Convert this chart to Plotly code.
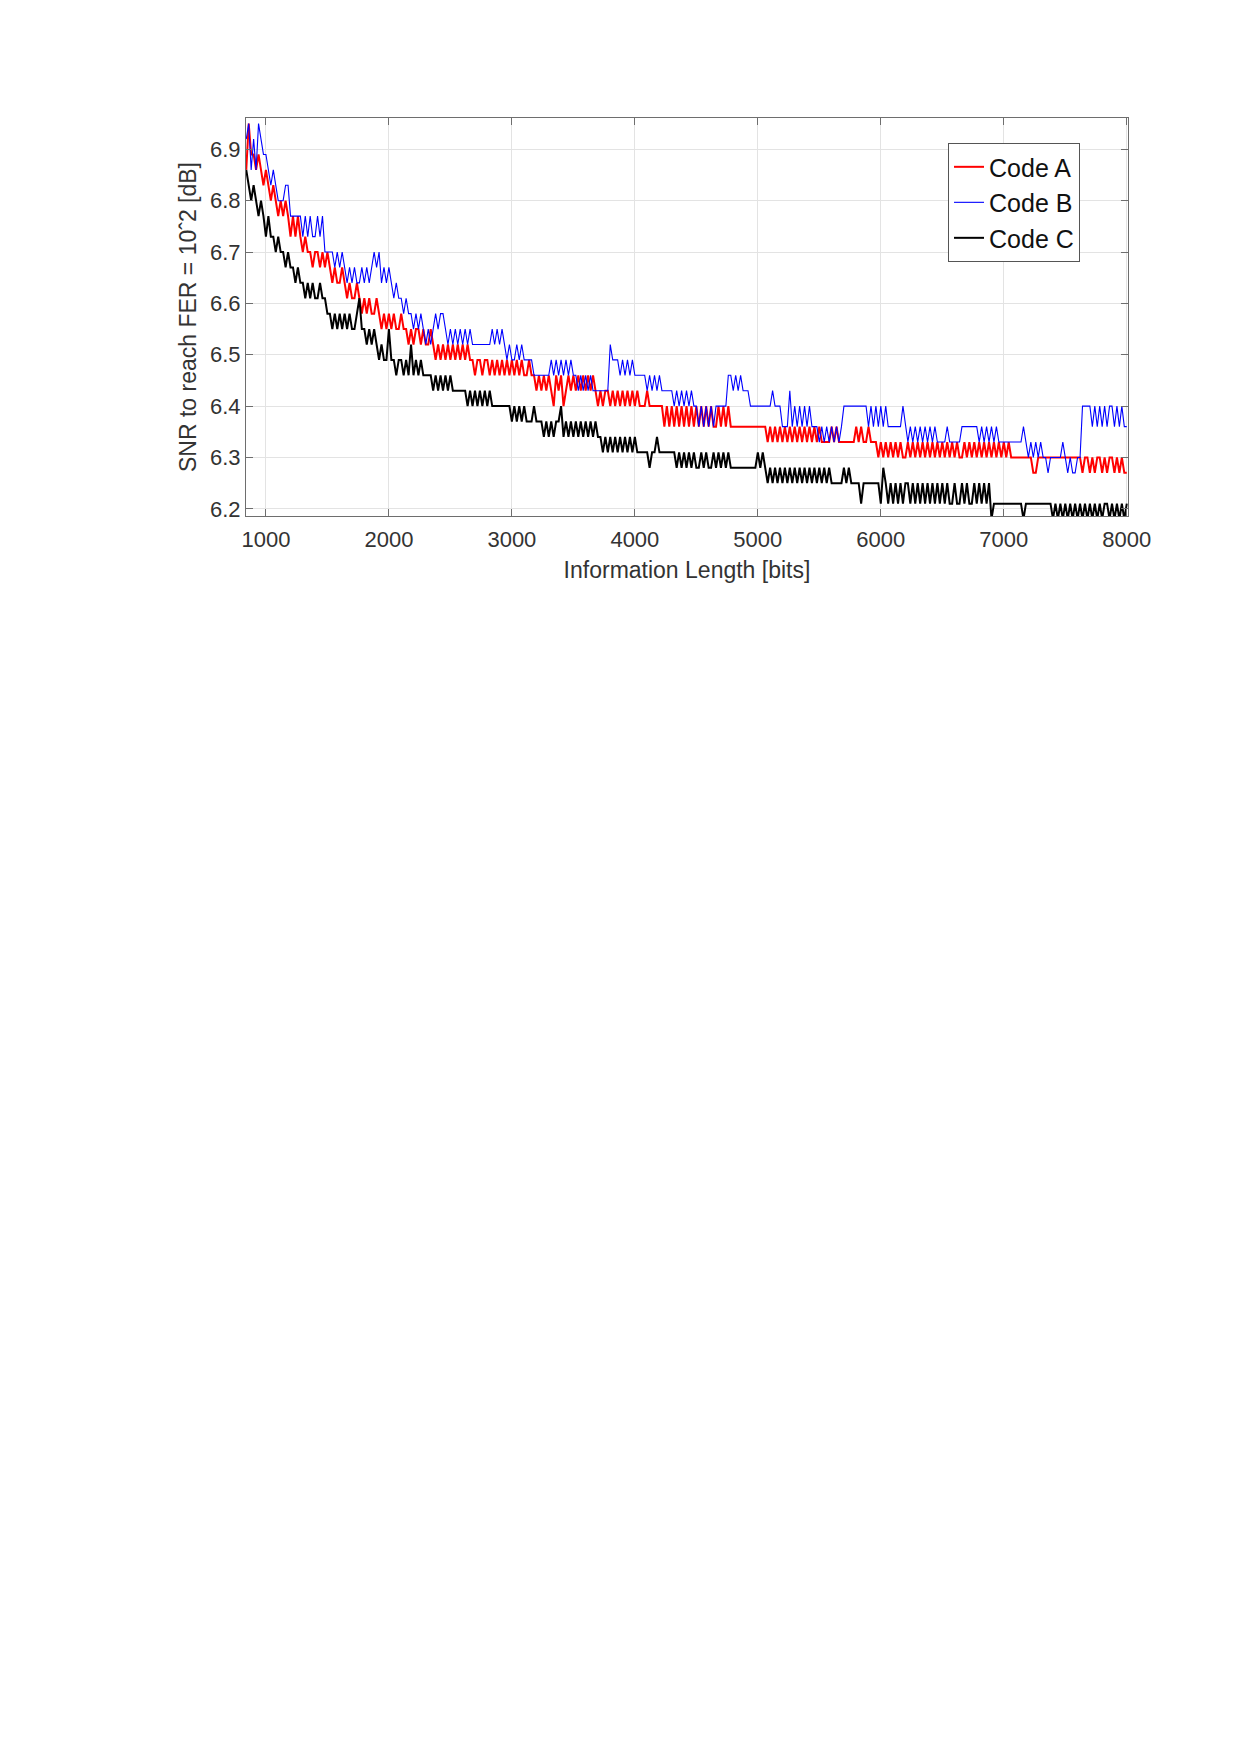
import plotly.graph_objects as go

# Information length sampling grid [bits]
info_len = list(range(840, 8001, 20))

# SNR [dB] to reach FER = 1e-2 (one row = 400 bits)
code_a = [
    6.86, 6.95, 6.89, 6.89, 6.86, 6.89, 6.86, 6.83, 6.86, 6.83, 6.80, 6.83, 6.80, 6.77, 6.80, 6.77, 6.80, 6.77, 6.73, 6.77,
    6.73, 6.77, 6.73, 6.70, 6.73, 6.70, 6.70, 6.67, 6.70, 6.70, 6.67, 6.70, 6.67, 6.70, 6.67, 6.64, 6.67, 6.64, 6.64, 6.67,
    6.64, 6.61, 6.64, 6.61, 6.61, 6.64, 6.61, 6.58, 6.61, 6.58, 6.61, 6.58, 6.58, 6.61, 6.58, 6.55, 6.58, 6.55, 6.58, 6.55,
    6.58, 6.55, 6.55, 6.58, 6.55, 6.55, 6.52, 6.55, 6.52, 6.55, 6.55, 6.52, 6.55, 6.52, 6.52, 6.55, 6.52, 6.49, 6.52, 6.49,
    6.52, 6.49, 6.52, 6.49, 6.52, 6.49, 6.52, 6.49, 6.52, 6.49, 6.52, 6.49, 6.49, 6.46, 6.49, 6.49, 6.46, 6.49, 6.49, 6.46,
    6.49, 6.46, 6.49, 6.46, 6.49, 6.46, 6.49, 6.46, 6.49, 6.46, 6.49, 6.46, 6.49, 6.46, 6.46, 6.49, 6.46, 6.46, 6.43, 6.46,
    6.43, 6.46, 6.43, 6.46, 6.43, 6.40, 6.46, 6.43, 6.46, 6.40, 6.43, 6.46, 6.43, 6.46, 6.43, 6.46, 6.43, 6.46, 6.43, 6.46,
    6.43, 6.46, 6.43, 6.40, 6.43, 6.40, 6.43, 6.43, 6.40, 6.43, 6.40, 6.43, 6.40, 6.43, 6.40, 6.43, 6.40, 6.43, 6.40, 6.43,
    6.40, 6.40, 6.40, 6.43, 6.40, 6.40, 6.40, 6.40, 6.40, 6.40, 6.36, 6.40, 6.36, 6.40, 6.36, 6.40, 6.36, 6.40, 6.36, 6.40,
    6.36, 6.40, 6.36, 6.40, 6.36, 6.40, 6.36, 6.40, 6.36, 6.40, 6.36, 6.36, 6.40, 6.36, 6.40, 6.36, 6.40, 6.36, 6.36, 6.36,
    6.36, 6.36, 6.36, 6.36, 6.36, 6.36, 6.36, 6.36, 6.36, 6.36, 6.36, 6.36, 6.33, 6.36, 6.33, 6.36, 6.33, 6.36, 6.33, 6.36,
    6.33, 6.36, 6.33, 6.36, 6.33, 6.36, 6.33, 6.36, 6.33, 6.36, 6.33, 6.36, 6.33, 6.36, 6.33, 6.33, 6.33, 6.33, 6.36, 6.33,
    6.36, 6.33, 6.33, 6.33, 6.33, 6.33, 6.33, 6.33, 6.36, 6.33, 6.36, 6.33, 6.33, 6.36, 6.33, 6.33, 6.33, 6.30, 6.33, 6.30,
    6.33, 6.30, 6.33, 6.30, 6.33, 6.30, 6.33, 6.30, 6.30, 6.33, 6.30, 6.33, 6.30, 6.33, 6.30, 6.33, 6.30, 6.33, 6.30, 6.33,
    6.30, 6.33, 6.30, 6.33, 6.30, 6.33, 6.30, 6.33, 6.30, 6.33, 6.30, 6.30, 6.33, 6.30, 6.33, 6.30, 6.33, 6.30, 6.33, 6.30,
    6.33, 6.30, 6.33, 6.30, 6.33, 6.30, 6.33, 6.30, 6.33, 6.30, 6.33, 6.30, 6.30, 6.30, 6.30, 6.30, 6.30, 6.30, 6.30, 6.30,
    6.27, 6.27, 6.30, 6.30, 6.30, 6.30, 6.30, 6.30, 6.30, 6.30, 6.30, 6.30, 6.30, 6.30, 6.30, 6.30, 6.30, 6.30, 6.30, 6.30,
    6.27, 6.30, 6.30, 6.27, 6.30, 6.27, 6.30, 6.30, 6.27, 6.30, 6.27, 6.30, 6.30, 6.27, 6.30, 6.27, 6.30, 6.27, 6.27,
]

code_b = [
    6.92, 6.95, 6.86, 6.92, 6.86, 6.95, 6.92, 6.89, 6.89, 6.86, 6.83, 6.86, 6.83, 6.80, 6.80, 6.80, 6.83, 6.83, 6.77, 6.77,
    6.77, 6.77, 6.77, 6.73, 6.77, 6.73, 6.77, 6.73, 6.73, 6.77, 6.73, 6.77, 6.70, 6.70, 6.70, 6.70, 6.67, 6.70, 6.67, 6.70,
    6.67, 6.64, 6.67, 6.64, 6.67, 6.64, 6.64, 6.67, 6.64, 6.67, 6.64, 6.67, 6.70, 6.67, 6.70, 6.64, 6.67, 6.64, 6.67, 6.64,
    6.61, 6.64, 6.61, 6.61, 6.58, 6.61, 6.58, 6.58, 6.55, 6.58, 6.55, 6.58, 6.55, 6.52, 6.55, 6.52, 6.55, 6.58, 6.55, 6.58,
    6.58, 6.55, 6.52, 6.55, 6.52, 6.55, 6.52, 6.55, 6.52, 6.55, 6.52, 6.55, 6.52, 6.52, 6.52, 6.52, 6.52, 6.52, 6.52, 6.52,
    6.55, 6.52, 6.55, 6.52, 6.55, 6.52, 6.49, 6.52, 6.49, 6.49, 6.52, 6.49, 6.52, 6.49, 6.49, 6.49, 6.49, 6.46, 6.46, 6.46,
    6.46, 6.46, 6.46, 6.46, 6.49, 6.46, 6.49, 6.46, 6.49, 6.46, 6.49, 6.46, 6.49, 6.46, 6.46, 6.43, 6.46, 6.43, 6.46, 6.43,
    6.46, 6.43, 6.43, 6.43, 6.43, 6.43, 6.43, 6.43, 6.52, 6.49, 6.49, 6.49, 6.46, 6.49, 6.46, 6.49, 6.46, 6.49, 6.46, 6.46,
    6.46, 6.46, 6.46, 6.43, 6.46, 6.43, 6.46, 6.43, 6.46, 6.43, 6.43, 6.43, 6.43, 6.43, 6.40, 6.43, 6.40, 6.43, 6.40, 6.43,
    6.40, 6.43, 6.40, 6.40, 6.36, 6.40, 6.36, 6.40, 6.36, 6.40, 6.36, 6.40, 6.40, 6.40, 6.40, 6.40, 6.46, 6.46, 6.43, 6.46,
    6.43, 6.46, 6.43, 6.43, 6.43, 6.40, 6.40, 6.40, 6.40, 6.40, 6.40, 6.40, 6.40, 6.40, 6.43, 6.40, 6.40, 6.40, 6.36, 6.36,
    6.36, 6.43, 6.36, 6.40, 6.36, 6.40, 6.36, 6.40, 6.36, 6.40, 6.36, 6.36, 6.36, 6.33, 6.36, 6.33, 6.36, 6.33, 6.36, 6.33,
    6.36, 6.33, 6.36, 6.40, 6.40, 6.40, 6.40, 6.40, 6.40, 6.40, 6.40, 6.40, 6.40, 6.36, 6.40, 6.36, 6.40, 6.36, 6.40, 6.36,
    6.40, 6.36, 6.36, 6.36, 6.36, 6.36, 6.36, 6.40, 6.36, 6.33, 6.36, 6.33, 6.36, 6.33, 6.36, 6.33, 6.36, 6.33, 6.36, 6.33,
    6.36, 6.33, 6.33, 6.33, 6.33, 6.36, 6.33, 6.33, 6.33, 6.33, 6.33, 6.36, 6.36, 6.36, 6.36, 6.36, 6.36, 6.36, 6.33, 6.36,
    6.33, 6.36, 6.33, 6.36, 6.33, 6.36, 6.33, 6.33, 6.33, 6.33, 6.33, 6.33, 6.33, 6.33, 6.33, 6.33, 6.36, 6.33, 6.30, 6.33,
    6.30, 6.33, 6.30, 6.33, 6.30, 6.30, 6.27, 6.30, 6.30, 6.30, 6.30, 6.30, 6.33, 6.30, 6.27, 6.30, 6.27, 6.27, 6.30, 6.30,
    6.40, 6.40, 6.40, 6.40, 6.36, 6.40, 6.36, 6.40, 6.36, 6.40, 6.36, 6.40, 6.40, 6.36, 6.40, 6.36, 6.40, 6.36, 6.36,
]

code_c = [
    6.86, 6.83, 6.80, 6.83, 6.80, 6.77, 6.80, 6.77, 6.73, 6.77, 6.73, 6.73, 6.70, 6.73, 6.70, 6.70, 6.67, 6.70, 6.67, 6.67,
    6.64, 6.67, 6.64, 6.64, 6.61, 6.64, 6.61, 6.64, 6.61, 6.61, 6.64, 6.61, 6.61, 6.58, 6.58, 6.55, 6.58, 6.55, 6.58, 6.55,
    6.58, 6.55, 6.58, 6.55, 6.55, 6.58, 6.61, 6.55, 6.55, 6.52, 6.55, 6.52, 6.55, 6.52, 6.49, 6.52, 6.49, 6.49, 6.55, 6.49,
    6.49, 6.46, 6.49, 6.49, 6.46, 6.49, 6.46, 6.52, 6.46, 6.49, 6.46, 6.49, 6.46, 6.46, 6.46, 6.46, 6.43, 6.46, 6.43, 6.46,
    6.43, 6.46, 6.43, 6.46, 6.43, 6.43, 6.43, 6.43, 6.43, 6.43, 6.40, 6.43, 6.40, 6.43, 6.40, 6.43, 6.40, 6.43, 6.40, 6.43,
    6.40, 6.40, 6.40, 6.40, 6.40, 6.40, 6.40, 6.40, 6.37, 6.40, 6.37, 6.40, 6.37, 6.40, 6.37, 6.37, 6.37, 6.40, 6.37, 6.37,
    6.37, 6.34, 6.37, 6.34, 6.37, 6.34, 6.37, 6.37, 6.40, 6.34, 6.37, 6.34, 6.37, 6.34, 6.37, 6.34, 6.37, 6.34, 6.37, 6.34,
    6.37, 6.34, 6.37, 6.34, 6.34, 6.31, 6.34, 6.31, 6.34, 6.31, 6.34, 6.31, 6.34, 6.31, 6.34, 6.31, 6.34, 6.31, 6.34, 6.31,
    6.31, 6.31, 6.31, 6.31, 6.28, 6.31, 6.31, 6.34, 6.31, 6.31, 6.31, 6.31, 6.31, 6.31, 6.31, 6.28, 6.31, 6.28, 6.31, 6.28,
    6.31, 6.28, 6.31, 6.28, 6.28, 6.31, 6.28, 6.31, 6.28, 6.28, 6.31, 6.28, 6.31, 6.28, 6.31, 6.28, 6.31, 6.28, 6.28, 6.28,
    6.28, 6.28, 6.28, 6.28, 6.28, 6.28, 6.28, 6.28, 6.31, 6.28, 6.31, 6.28, 6.25, 6.28, 6.25, 6.28, 6.25, 6.28, 6.25, 6.28,
    6.25, 6.28, 6.25, 6.28, 6.25, 6.28, 6.25, 6.28, 6.25, 6.28, 6.25, 6.28, 6.25, 6.28, 6.25, 6.28, 6.25, 6.28, 6.25, 6.25,
    6.25, 6.25, 6.25, 6.28, 6.25, 6.28, 6.25, 6.25, 6.25, 6.25, 6.21, 6.25, 6.25, 6.25, 6.25, 6.25, 6.25, 6.25, 6.21, 6.28,
    6.25, 6.21, 6.25, 6.21, 6.25, 6.21, 6.25, 6.21, 6.25, 6.25, 6.21, 6.25, 6.21, 6.25, 6.21, 6.25, 6.21, 6.25, 6.21, 6.25,
    6.21, 6.25, 6.21, 6.25, 6.21, 6.25, 6.21, 6.21, 6.25, 6.21, 6.21, 6.25, 6.21, 6.25, 6.21, 6.21, 6.25, 6.21, 6.25, 6.21,
    6.25, 6.21, 6.25, 6.18, 6.21, 6.21, 6.21, 6.21, 6.21, 6.21, 6.21, 6.21, 6.21, 6.21, 6.21, 6.21, 6.18, 6.21, 6.21, 6.21,
    6.21, 6.21, 6.21, 6.21, 6.21, 6.21, 6.21, 6.21, 6.18, 6.21, 6.18, 6.21, 6.18, 6.21, 6.18, 6.21, 6.18, 6.21, 6.18, 6.21,
    6.18, 6.21, 6.18, 6.21, 6.18, 6.21, 6.18, 6.21, 6.18, 6.21, 6.21, 6.18, 6.21, 6.18, 6.21, 6.18, 6.21, 6.18, 6.21,
]

for _name, _vals in (("code_a", code_a), ("code_b", code_b), ("code_c", code_c)):
    if len(_vals) != len(info_len):
        raise ValueError(f"{_name}: {len(_vals)} values for {len(info_len)} lengths")

x_ticks = [1000, 2000, 3000, 4000, 5000, 6000, 7000, 8000]
y_ticks = [6.2, 6.3, 6.4, 6.5, 6.6, 6.7, 6.8, 6.9]

series = [
    ("Code A", code_a, "#ff0000", 2.0),
    ("Code B", code_b, "#0000ff", 1.1),
    ("Code C", code_c, "#000000", 2.0),
]

fig = go.Figure()
for name, vals, color, width in series:
    fig.add_trace(go.Scatter(
        x=info_len, y=vals, mode="lines", name=name,
        line=dict(color=color, width=width),
    ))

font_family = "Arial, Liberation Sans, Helvetica, sans-serif"
axis_common = dict(
    showgrid=True, gridcolor="#e3e3e3", gridwidth=1,
    showline=True, linecolor="#6e6e6e", linewidth=1.2, mirror="allticks",
    ticks="inside", ticklen=7, tickcolor="#6e6e6e", tickwidth=1,
    zeroline=False,
    tickfont=dict(family=font_family, size=22, color="#333333"),
)

fig.update_layout(
    width=1240, height=1755,
    paper_bgcolor="white", plot_bgcolor="white",
    margin=dict(l=246, r=112, t=118, b=1239),
    font=dict(family=font_family, color="#333333"),
    showlegend=True,
    legend=dict(
        x=0.9456, y=0.937, xanchor="right", yanchor="top",
        bgcolor="white", bordercolor="#555555", borderwidth=1,
        font=dict(family=font_family, size=25, color="#111111"),
        itemwidth=30, tracegroupgap=0,
    ),
    xaxis=dict(
        range=[838, 8010], tickvals=x_ticks,
        ticktext=[str(v) for v in x_ticks],
        ticklabelstandoff=3,
        title=dict(text="Information Length [bits]",
                   font=dict(family=font_family, size=23, color="#333333"),
                   standoff=11),
        **axis_common,
    ),
    yaxis=dict(
        range=[6.186, 6.961], tickvals=y_ticks,
        ticktext=[f"{v:.1f}" for v in y_ticks],
        title=dict(text="SNR to reach FER = 10ˆ2 [dB]",
                   font=dict(family=font_family, size=23, color="#333333"),
                   standoff=6),
        **axis_common,
    ),
)

fig.write_html("out.html")
